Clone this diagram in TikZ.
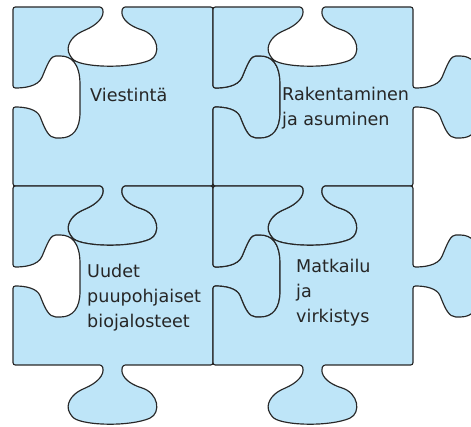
\documentclass[tikz,border=0pt]{standalone}
\usepackage{fontspec}
\newfontfamily\labelfont{DejaVu Sans}
\definecolor{puzzleblue}{RGB}{190,229,248}
\definecolor{edgegray}{RGB}{40,40,40}
\definecolor{textgray}{RGB}{38,38,38}
\tikzset{
  piece/.style={fill=puzzleblue, draw=edgegray, line width=1pt, rounded corners=2pt},
  label/.style={anchor=base west, inner sep=0pt, align=left, text=textgray,
    font=\labelfont\fontsize{15}{21.5}\selectfont}
}
\begin{document}
\begin{tikzpicture}[x=0.03cm, y=-0.03cm]
    \useasboundingbox (0,0) rectangle (471,427);
    \clip (0,0) rectangle (471,427);
    \foreach \px/\py in {13/7, 213/7, 13/186, 213/186} {
        \draw[piece, shift={(\px,\py)}] (0,0) -- (89,0)
            .. controls (92,10) and (84,18) .. (70,24)
            .. controls (58,30) and (52,40) .. (58,50)
            .. controls (66,60) and (110,62) .. (135,54)
            .. controls (148,48) and (146,28) .. (126,22)
            .. controls (114,17) and (107,10) .. (110,0)
            -- (200,0) -- (200,81)
            .. controls (210,81) and (225,80) .. (230,68)
            .. controls (235,56) and (238,49) .. (245,49)
            .. controls (258,49) and (267,56) .. (267,80)
            -- (267,103)
            .. controls (267,122) and (260,131) .. (245,131)
            .. controls (236,131) and (232,122) .. (228,112)
            .. controls (224,102) and (212,100) .. (200,100)
            -- (200,179) -- (110,179)
            .. controls (107,189) and (114,196) .. (126,201)
            .. controls (146,207) and (148,227) .. (135,233)
            .. controls (110,241) and (66,239) .. (58,229)
            .. controls (52,219) and (58,209) .. (70,203)
            .. controls (84,197) and (92,189) .. (89,179)
            -- (0,179) -- (0,100)
            .. controls (12,100) and (24,102) .. (28,112)
            .. controls (32,122) and (36,131) .. (45,131)
            .. controls (60,131) and (67,122) .. (67,103)
            -- (67,80)
            .. controls (67,56) and (58,49) .. (45,49)
            .. controls (38,49) and (35,56) .. (30,68)
            .. controls (25,80) and (10,81) .. (0,81) -- cycle;
    }
    \node[label] (viestinta) at (90,101.5) {Viestintä};
    \node[label] (rakentaminen) at (282,125.5) {Rakentaminen\\ja asuminen};
    \node[label] (uudet) at (87,328) {Uudet\\puupohjaiset\\biojalosteet};
    \node[label] (matkailu) at (296,323) {Matkailu\\ja\\virkistys};
\end{tikzpicture}
\end{document}
